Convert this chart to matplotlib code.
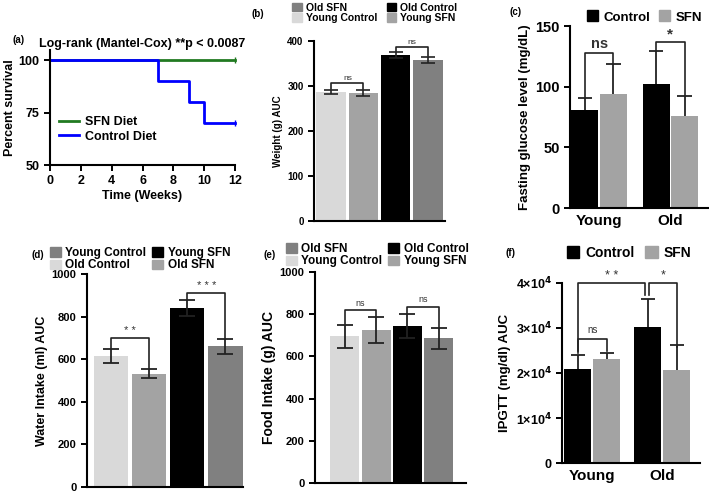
import matplotlib
matplotlib.use("Agg")
import matplotlib.pyplot as plt
from matplotlib.patches import Patch
import numpy as np

plt.rcParams['font.family'] = ['Liberation Sans', 'DejaVu Sans']
plt.rcParams['font.weight'] = 'bold'
plt.rcParams['axes.labelweight'] = 'bold'

# ---- data ----
# (a) survival
weeks_sfn = [0, 12]
surv_sfn = [100, 100]
weeks_ctrl = [0, 7, 9, 10, 12]
surv_ctrl = [100, 90, 80, 70, 70]

# (b) weight AUC: Young Control, Young SFN, Old Control, Old SFN
weight_mean = [287, 284, 369, 358]
weight_err = [5, 7, 7, 6]

# (c) fasting glucose: [Young, Old]
glucose_ctrl = [81, 102]
glucose_ctrl_err = [10, 27]
glucose_sfn = [94, 76]
glucose_sfn_err = [25, 16]

# (d) water intake
water_mean = [615, 532, 840, 660]
water_err = [32, 22, 38, 37]

# (e) food intake
food_mean = [696, 725, 744, 686]
food_err = [55, 60, 58, 50]

# (f) IPGTT AUC
ipgtt_ctrl = [21000, 30200]
ipgtt_ctrl_err = [3000, 6200]
ipgtt_sfn = [23100, 20600]
ipgtt_sfn_err = [1400, 5600]

groups = ['Young', 'Old']

LIGHT = '#d9d9d9'
MID = '#a3a3a3'
DARK = '#808080'
four_colors = [LIGHT, MID, 'black', DARK]

W, H = 709, 496
fig = plt.figure(figsize=(W / 100, H / 100), dpi=100)


def add_ax(l, r, t, b):
    return fig.add_axes([l / W, 1 - b / H, (r - l) / W, (b - t) / H])


def style(ax, fs):
    for s in ['top', 'right']:
        ax.spines[s].set_visible(False)
    for s in ['left', 'bottom']:
        ax.spines[s].set_linewidth(1.5)
    ax.tick_params(width=1.4, length=4, labelsize=fs)
    for lab in ax.get_xticklabels() + ax.get_yticklabels():
        lab.set_fontweight('bold')


def upper_err(ax, x, y, e, cap):
    # only the upper half of the error bar, like the Prism style
    x = np.asarray(x, float)
    top = np.asarray(y) + np.asarray(e)
    ax.vlines(x, y, top, color='#222222', lw=1.3)
    ax.hlines(top, x - cap, x + cap, color='#222222', lw=1.3)


def bracket(ax, x1, x2, y, y1, y2, text, fs, bold=False, dy=0):
    ax.plot([x1, x1, x2, x2], [y1, y, y, y2], color='#222222', lw=1.2, clip_on=False)
    ax.text((x1 + x2) / 2, y + dy, text, ha='center', va='bottom', fontsize=fs,
            fontweight='bold' if bold else 'normal', color='#333333')


def sq_legend(ax, labels, colors, anchor, fs, ncol, loc='upper left', colsp=1.0):
    handles = [Patch(facecolor=c, edgecolor=c) for c in colors]
    ax.legend(handles, labels, ncol=ncol, loc=loc, bbox_to_anchor=anchor,
              bbox_transform=fig.transFigure, frameon=False, fontsize=fs,
              handlelength=0.9, handleheight=0.9, handletextpad=0.4,
              columnspacing=colsp, labelspacing=0.05, borderpad=0,
              prop={'weight': 'bold', 'size': fs})


# ---- (a) ----
ax = add_ax(50, 235, 50, 165)
ax.step(weeks_sfn, surv_sfn, where='post', color='#217a21', lw=2, label='SFN Diet',
        clip_on=False)
ax.step(weeks_ctrl, surv_ctrl, where='post', color='#0000ff', lw=2, label='Control Diet',
        clip_on=False)
ax.plot([weeks_sfn[-1]], [surv_sfn[-1]], marker='|', color='#217a21', ms=4, clip_on=False)
ax.plot([weeks_ctrl[-1]], [surv_ctrl[-1]], marker='|', color='#0000ff', ms=4, clip_on=False)
ax.set_xlim(0, 12)
ax.set_ylim(50, 104.8)
ax.set_xticks(range(0, 13, 2))
ax.set_yticks([50, 75, 100])
ax.set_xlabel('Time (Weeks)', fontsize=9, labelpad=2)
ax.set_ylabel('Percent survival', fontsize=9, labelpad=2)
style(ax, 9)
ax.set_title('Log-rank (Mantel-Cox) **p < 0.0087', fontsize=9, fontweight='bold', pad=2)
ax.legend(loc='upper left', bbox_to_anchor=(0.0, 0.5), frameon=False, fontsize=8.5,
          handlelength=1.6, handletextpad=0.5, labelspacing=0.2, borderpad=0.2,
          prop={'weight': 'bold', 'size': 9})
fig.text(12 / W, 1 - 40 / H, '(a)', fontsize=7, fontweight='bold', va='center')

# ---- (b) ----
ax = add_ax(314, 445, 41, 221)
x4 = np.arange(4)
ax.bar(x4, weight_mean, width=0.93, color=four_colors)
ax.errorbar(x4, weight_mean, yerr=weight_err, fmt='none', ecolor='#222222',
            elinewidth=1.2, capsize=5, capthick=1.2)
ax.set_xlim(-0.54, 3.54)
ax.set_ylim(0, 400)
ax.set_yticks([0, 100, 200, 300, 400])
ax.set_xticks([])
ax.set_ylabel('Weight (g) AUC', fontsize=7, labelpad=3)
style(ax, 7)
bracket(ax, 0, 1, 306, 293, 293, 'ns', 6, dy=4)
bracket(ax, 2, 3, 386, 377, 366, 'ns', 6, dy=4)
sq_legend(ax, ['Old SFN', 'Young Control', 'Old Control', 'Young SFN'],
          [DARK, LIGHT, 'black', MID], (287 / W, 1.005), 7.5, 2, colsp=0.9)
fig.text(252 / W, 1 - 14 / H, '(b)', fontsize=7, fontweight='bold', va='center')

# ---- (c) ----
ax = add_ax(570, 708, 26, 208)
xg = np.arange(2)
ax.bar(xg - 0.2, glucose_ctrl, width=0.38, color='black')
ax.bar(xg + 0.2, glucose_sfn, width=0.38, color=MID)
upper_err(ax, xg - 0.2, glucose_ctrl, glucose_ctrl_err, 0.1)
upper_err(ax, xg + 0.2, glucose_sfn, glucose_sfn_err, 0.1)
ax.set_xlim(-0.41, 1.53)
ax.set_ylim(0, 150)
ax.set_yticks([0, 50, 100, 150])
ax.set_xticks(xg)
ax.set_xticklabels(groups)
ax.set_ylabel('Fasting glucose level (mg/dL)', fontsize=9.5, labelpad=3)
style(ax, 10.5)
ax.tick_params(axis='x', labelsize=11, length=0, pad=4)
bracket(ax, -0.2, 0.2, 127.5, 91, 119, 'ns', 10.5, bold=True, dy=2)
bracket(ax, 0.8, 1.2, 137, 129, 92, '*', 11, bold=True, dy=0)
sq_legend(ax, ['Control', 'SFN'], ['black', MID], (580 / W, 1 - 17 / H), 9.5, 2,
          loc='center left', colsp=0.6)
fig.text(510 / W, 1 - 12 / H, '(c)', fontsize=7, fontweight='bold', va='center')

# ---- (d) ----
ax = add_ax(87, 243, 274, 487)
ax.bar(x4, water_mean, width=0.9, color=four_colors)
ax.errorbar(x4, water_mean, yerr=water_err, fmt='none', ecolor='#222222',
            elinewidth=1.3, capsize=6, capthick=1.3)
ax.set_xlim(-0.62, 3.46)
ax.set_ylim(0, 1000)
ax.set_yticks(range(0, 1001, 200))
ax.set_xticks([])
ax.set_ylabel('Water Intake (ml) AUC', fontsize=9, labelpad=3)
style(ax, 8)
bracket(ax, 0, 1, 700, 648, 555, '* *', 8, dy=8)
bracket(ax, 2, 3, 911, 880, 696, '* * *', 8, dy=8)
sq_legend(ax, ['Young Control', 'Old Control', 'Young SFN', 'Old SFN'],
          [DARK, LIGHT, 'black', MID], (44 / W, 1 - 241 / H), 8.5, 2, colsp=0.5)
fig.text(32 / W, 1 - 255 / H, '(d)', fontsize=7, fontweight='bold', va='center')

# ---- (e) ----
ax = add_ax(315, 466, 272, 483)
ax.bar(x4, food_mean, width=0.92, color=four_colors)
ax.errorbar(x4, food_mean, yerr=food_err, fmt='none', ecolor='#222222',
            elinewidth=1.3, capsize=6, capthick=1.3)
ax.set_xlim(-0.94, 3.86)
ax.set_ylim(0, 1000)
ax.set_yticks(range(0, 1001, 200))
ax.set_xticks([])
ax.set_ylabel('Food Intake (g) AUC', fontsize=10, labelpad=3)
style(ax, 8)
bracket(ax, 0, 1, 820, 753, 785, 'ns', 6.5, dy=10)
bracket(ax, 2, 3, 836, 802, 736, 'ns', 6.5, dy=10)
sq_legend(ax, ['Old SFN', 'Young Control', 'Old Control', 'Young SFN'],
          [DARK, LIGHT, 'black', MID], (280 / W, 1 - 237 / H), 8.5, 2, colsp=0.5)
fig.text(263 / W, 1 - 255 / H, '(e)', fontsize=7, fontweight='bold', va='center')

# ---- (f) ----
ax = add_ax(562, 700, 283, 463)
ax.bar(xg - 0.207, ipgtt_ctrl, width=0.386, color='black')
ax.bar(xg + 0.207, ipgtt_sfn, width=0.386, color=MID)
upper_err(ax, xg - 0.207, ipgtt_ctrl, ipgtt_ctrl_err, 0.1)
upper_err(ax, xg + 0.207, ipgtt_sfn, ipgtt_sfn_err, 0.1)
ax.set_xlim(-0.43, 1.54)
ax.set_ylim(0, 40000)
ax.set_yticks([0, 10000, 20000, 30000, 40000])
ax.set_yticklabels(['0', r'1×10$^\mathbf{4}$', r'2×10$^\mathbf{4}$',
                    r'3×10$^\mathbf{4}$', r'4×10$^\mathbf{4}$'])
ax.set_xticks(xg)
ax.set_xticklabels(groups)
ax.set_ylabel('IPGTT (mg/dl) AUC', fontsize=9.5, labelpad=3)
style(ax, 9)
ax.tick_params(axis='x', labelsize=11, length=0, pad=4)
bracket(ax, -0.207, 0.207, 27600, 24500, 24800, 'ns', 7, dy=800)
bracket(ax, -0.207, 0.75, 40000, 25000, 37400, '* *', 9, dy=300)
bracket(ax, 0.81, 1.207, 40000, 37400, 25800, '*', 9, dy=300)
sq_legend(ax, ['Control', 'SFN'], ['black', MID], (560 / W, 1 - 253 / H), 10, 2,
          loc='center left', colsp=0.8)
fig.text(505 / W, 1 - 253 / H, '(f)', fontsize=7, fontweight='bold', va='center')

fig.savefig('out.png', dpi=100)
